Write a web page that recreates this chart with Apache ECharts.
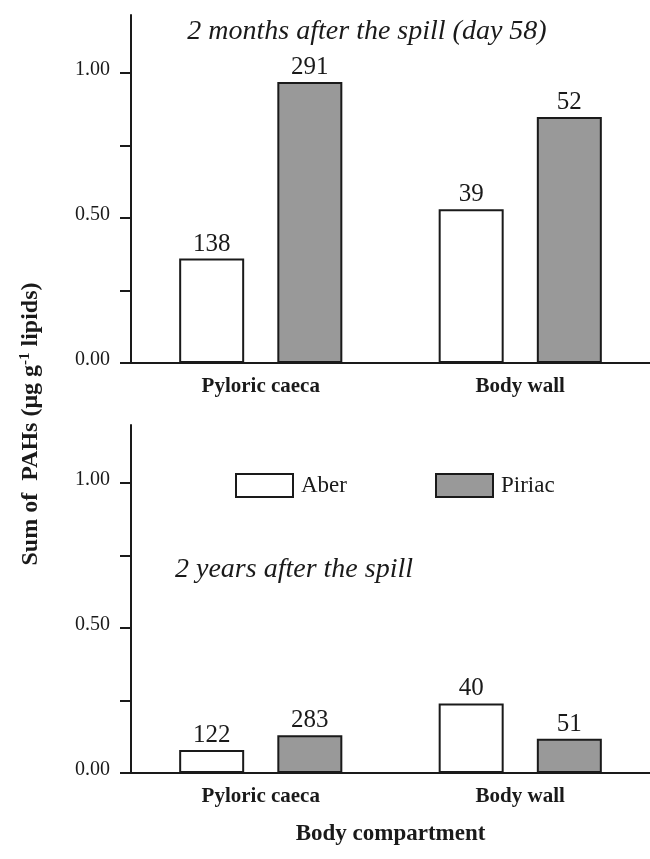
<!DOCTYPE html>
<html>
<head>
<meta charset="utf-8">
<script src="https://cdn.jsdelivr.net/npm/echarts@6/dist/echarts.min.js"></script>
<style>
  html, body { margin: 0; padding: 0; background: #fff; }
  #chart { width: 650px; height: 859px; }
</style>
</head>
<body>
<div id="chart"></div>
<script>
// data
var categories = ['Pyloric caeca', 'Body wall'];
var aberDay58 = [0.36, 0.53];
var piriacDay58 = [0.969, 0.848];
var aberYear2 = [0.079, 0.24];
var piriacYear2 = [0.13, 0.118];
// numbers printed above the bars
var aberDay58N = [138, 39];
var piriacDay58N = [291, 52];
var aberYear2N = [122, 40];
var piriacYear2N = [283, 51];
var yTicks = [0, 0.25, 0.5, 0.75, 1];
var yLabels = [0, 0.5, 1];

var ink = '#1a1a1a';
var serif = '"Liberation Serif", "DejaVu Serif", serif';

var chart = echarts.init(document.getElementById('chart'));

function xAxisFor(gridIndex, withName) {
    var ax = {
        type: 'category',
        gridIndex: gridIndex,
        data: categories,
        axisLine: { lineStyle: { color: ink, width: 2 } },
        axisTick: { alignWithLabel: true, length: 9, lineStyle: { color: ink, width: 2 } },
        axisLabel: { color: ink, fontFamily: serif, fontSize: 21, fontWeight: 'bold', margin: 13 }
    };
    if (withName) {
        ax.name = 'Body compartment';
        ax.nameLocation = 'middle';
        ax.nameGap = 50;
        ax.nameTextStyle = { color: ink, fontFamily: serif, fontSize: 23, fontWeight: 'bold' };
    }
    return ax;
}

function yAxisFor(gridIndex) {
    return {
        type: 'value',
        gridIndex: gridIndex,
        min: 0,
        max: 1.2,
        splitLine: { show: false },
        axisLine: { show: true, lineStyle: { color: ink, width: 2 } },
        axisTick: { show: true, length: 11, customValues: yTicks, lineStyle: { color: ink, width: 2 } },
        axisLabel: {
            customValues: yLabels,
            color: ink,
            fontFamily: serif,
            fontSize: 20,
            margin: 21,
            verticalAlign: 'bottom',
            lineHeight: 6,
            formatter: function (v) { return v.toFixed(2); }
        }
    };
}

function barSeries(name, values, counts, fill, idx) {
    return {
        name: name,
        type: 'bar',
        xAxisIndex: idx,
        yAxisIndex: idx,
        data: values,
        barWidth: 65,
        barGap: '51%',
        itemStyle: { color: fill, borderColor: ink, borderWidth: 2 },
        label: {
            show: true,
            position: 'top',
            distance: 2,
            color: ink,
            fontFamily: serif,
            fontSize: 25,
            formatter: function (p) { return counts[p.dataIndex]; }
        }
    };
}

var legendCommon = {
    orient: 'horizontal',
    top: 473,
    padding: 0,
    itemWidth: 57,
    itemHeight: 23,
    icon: 'rect',
    textStyle: { color: ink, fontFamily: serif, fontSize: 23, padding: [0, 0, 0, 3] },
    itemStyle: { borderColor: ink, borderWidth: 2 }
};

var option = {
    backgroundColor: '#fff',
    animation: false,
    grid: [
        { left: 131, top: 15, width: 522, height: 348 },
        { left: 131, top: 425, width: 522, height: 348 }
    ],
    legend: [
        Object.assign({}, legendCommon, { left: 235, data: ['Aber'] }),
        Object.assign({}, legendCommon, { left: 435, data: ['Piriac'] })
    ],
    xAxis: [xAxisFor(0, false), xAxisFor(1, true)],
    yAxis: [yAxisFor(0), yAxisFor(1)],
    series: [
        barSeries('Aber', aberDay58, aberDay58N, '#ffffff', 0),
        barSeries('Piriac', piriacDay58, piriacDay58N, '#999999', 0),
        barSeries('Aber', aberYear2, aberYear2N, '#ffffff', 1),
        barSeries('Piriac', piriacYear2, piriacYear2N, '#999999', 1)
    ],
    graphic: [
        {
            type: 'text',
            x: 367, y: 32,
            style: {
                text: '2 months after the spill (day 58)',
                fill: ink, font: 'italic 28px ' + serif,
                align: 'center', verticalAlign: 'middle'
            }
        },
        {
            type: 'text',
            x: 175, y: 570,
            style: {
                text: '2 years after the spill',
                fill: ink, font: 'italic 28px ' + serif,
                align: 'left', verticalAlign: 'middle'
            }
        },
        {
            type: 'text',
            x: 31, y: 424,
            rotation: Math.PI / 2,
            style: {
                text: '{t|Sum of  PAHs (μg g}{s|-1}{t| lipids)}',
                align: 'center', verticalAlign: 'middle',
                rich: {
                    t: { fill: ink, fontFamily: serif, fontSize: 24, fontWeight: 'bold', lineHeight: 26 },
                    s: { fill: ink, fontFamily: serif, fontSize: 15, fontWeight: 'bold', verticalAlign: 'top', lineHeight: 26 }
                }
            }
        }
    ]
};

chart.setOption(option);
</script>
</body>
</html>
